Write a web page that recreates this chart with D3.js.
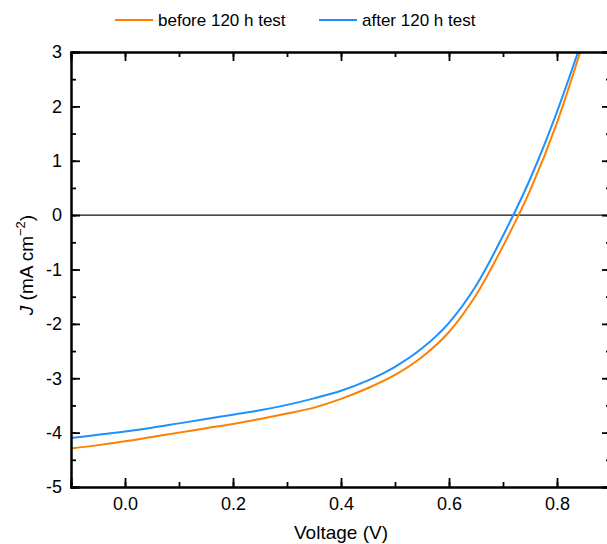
<!DOCTYPE html>
<html>
<head>
<meta charset="utf-8">
<script src="https://cdn.jsdelivr.net/npm/d3@7"></script>
<style>
  body { margin: 0; background: #fff; }
  text { font-family: "Liberation Sans", Arial, sans-serif; fill: #000; }
</style>
</head>
<body>
<div id="main"></div>
<script>
// voltage steps (V) and current density (mA cm^-2)
let vBefore = [-0.1, -0.05, 0.0, 0.05, 0.1, 0.15, 0.2, 0.25, 0.3, 0.35, 0.4, 0.45, 0.5, 0.55, 0.6, 0.65, 0.7, 0.75, 0.8, 0.843];
let jBefore = [-4.29, -4.23, -4.16, -4.08, -4.0, -3.92, -3.84, -3.75, -3.65, -3.54, -3.38, -3.18, -2.94, -2.61, -2.15, -1.47, -0.57, 0.45, 1.7, 3.0];
let vAfter = [-0.1, -0.05, 0.0, 0.05, 0.1, 0.15, 0.2, 0.25, 0.3, 0.35, 0.4, 0.45, 0.5, 0.55, 0.6, 0.65, 0.7, 0.75, 0.8, 0.839];
let jAfter = [-4.1, -4.04, -3.98, -3.91, -3.83, -3.75, -3.67, -3.59, -3.49, -3.37, -3.23, -3.04, -2.79, -2.45, -1.98, -1.3, -0.38, 0.66, 1.9, 3.0];
let seriesNames = ["before 120 h test", "after 120 h test"];
let seriesColors = ["#ff8000", "#1e90ff"];
let xTicks = [0.0, 0.2, 0.4, 0.6, 0.8];
let yTicks = [-5, -4, -3, -2, -1, 0, 1, 2, 3];

let width = 607, height = 544;
let plotLeft = 71, plotRight = 611, plotTop = 52, plotBottom = 487;

let svg = d3.select("#main").append("svg")
    .attr("width", width)
    .attr("height", height);

let xScale = d3.scaleLinear().domain([-0.1, 0.9]).range([plotLeft, plotRight]);
let yScale = d3.scaleLinear().domain([-5, 3]).range([plotBottom, plotTop]);

svg.append("clipPath").attr("id", "clip")
  .append("rect")
    .attr("x", plotLeft).attr("y", plotTop)
    .attr("width", plotRight - plotLeft).attr("height", plotBottom - plotTop);

// zero line
svg.append("line")
    .attr("x1", plotLeft).attr("x2", plotRight)
    .attr("y1", yScale(0)).attr("y2", yScale(0))
    .attr("stroke", "#111").attr("stroke-width", 1.2);

let line = d3.line()
    .x(d => xScale(d[0]))
    .y(d => yScale(d[1]))
    .curve(d3.curveMonotoneX);

let series = [
  d3.zip(vBefore, jBefore),
  d3.zip(vAfter, jAfter)
];

series.forEach((s, i) => {
  svg.append("path")
      .datum(s)
      .attr("clip-path", "url(#clip)")
      .attr("fill", "none")
      .attr("stroke", seriesColors[i])
      .attr("stroke-width", 2)
      .attr("d", line);
});

// axes: ticks point inward on all four sides
let xMinor = d3.range(-0.1, 0.91, 0.1).map(v => +v.toFixed(2));
let yMinor = d3.range(-5, 3.01, 0.5);

function addAxis(axis, tx, ty, showLabels) {
  let g = svg.append("g").attr("transform", `translate(${tx},${ty})`).call(axis);
  g.select(".domain").attr("stroke", "#000").attr("stroke-width", 2);
  g.selectAll(".tick line").attr("stroke", "#000").attr("stroke-width", 1.8);
  g.selectAll("text").style("font-size", "18px").style("font-family", "Liberation Sans, Arial, sans-serif");
  if (!showLabels) g.selectAll("text").remove();
  return g;
}

// minor ticks first
addAxis(d3.axisBottom(xScale).tickValues(xMinor).tickSize(-5).tickFormat(""), 0, plotBottom, false);
addAxis(d3.axisTop(xScale).tickValues(xMinor).tickSize(-5).tickFormat(""), 0, plotTop, false);
addAxis(d3.axisLeft(yScale).tickValues(yMinor).tickSize(-5).tickFormat(""), plotLeft, 0, false);
addAxis(d3.axisRight(yScale).tickValues(yMinor).tickSize(-5).tickFormat(""), plotRight, 0, false);

// major ticks
addAxis(d3.axisBottom(xScale).tickValues(xTicks).tickSize(-9).tickPadding(10).tickFormat(d3.format(".1f")), 0, plotBottom, true);
addAxis(d3.axisTop(xScale).tickValues(xTicks).tickSize(-9).tickFormat(""), 0, plotTop, false);
addAxis(d3.axisLeft(yScale).tickValues(yTicks).tickSize(-9).tickPadding(9).tickFormat(d => String(d)), plotLeft, 0, true);
addAxis(d3.axisRight(yScale).tickValues(yTicks).tickSize(-9).tickFormat(""), plotRight, 0, false);

// axis titles
svg.append("text")
    .attr("x", 341).attr("y", 539)
    .attr("text-anchor", "middle")
    .style("font-size", "19px")
    .text("Voltage (V)");

let yTitle = svg.append("text")
    .attr("transform", "translate(33,265) rotate(-90)")
    .attr("text-anchor", "middle")
    .style("font-size", "19px");
yTitle.append("tspan").style("font-style", "italic").text("J");
yTitle.append("tspan").text(" (mA cm");
yTitle.append("tspan").attr("dy", -8).style("font-size", "13px").text("\u22122");
yTitle.append("tspan").attr("dy", 8).text(")");

// legend
let legendX = [115, 319];
seriesNames.forEach((name, i) => {
  svg.append("line")
      .attr("x1", legendX[i]).attr("x2", legendX[i] + 38)
      .attr("y1", 20).attr("y2", 20)
      .attr("stroke", seriesColors[i]).attr("stroke-width", 2);
  svg.append("text")
      .attr("x", legendX[i] + 43).attr("y", 26)
      .style("font-size", "17px")
      .text(name);
});
</script>
</body>
</html>
